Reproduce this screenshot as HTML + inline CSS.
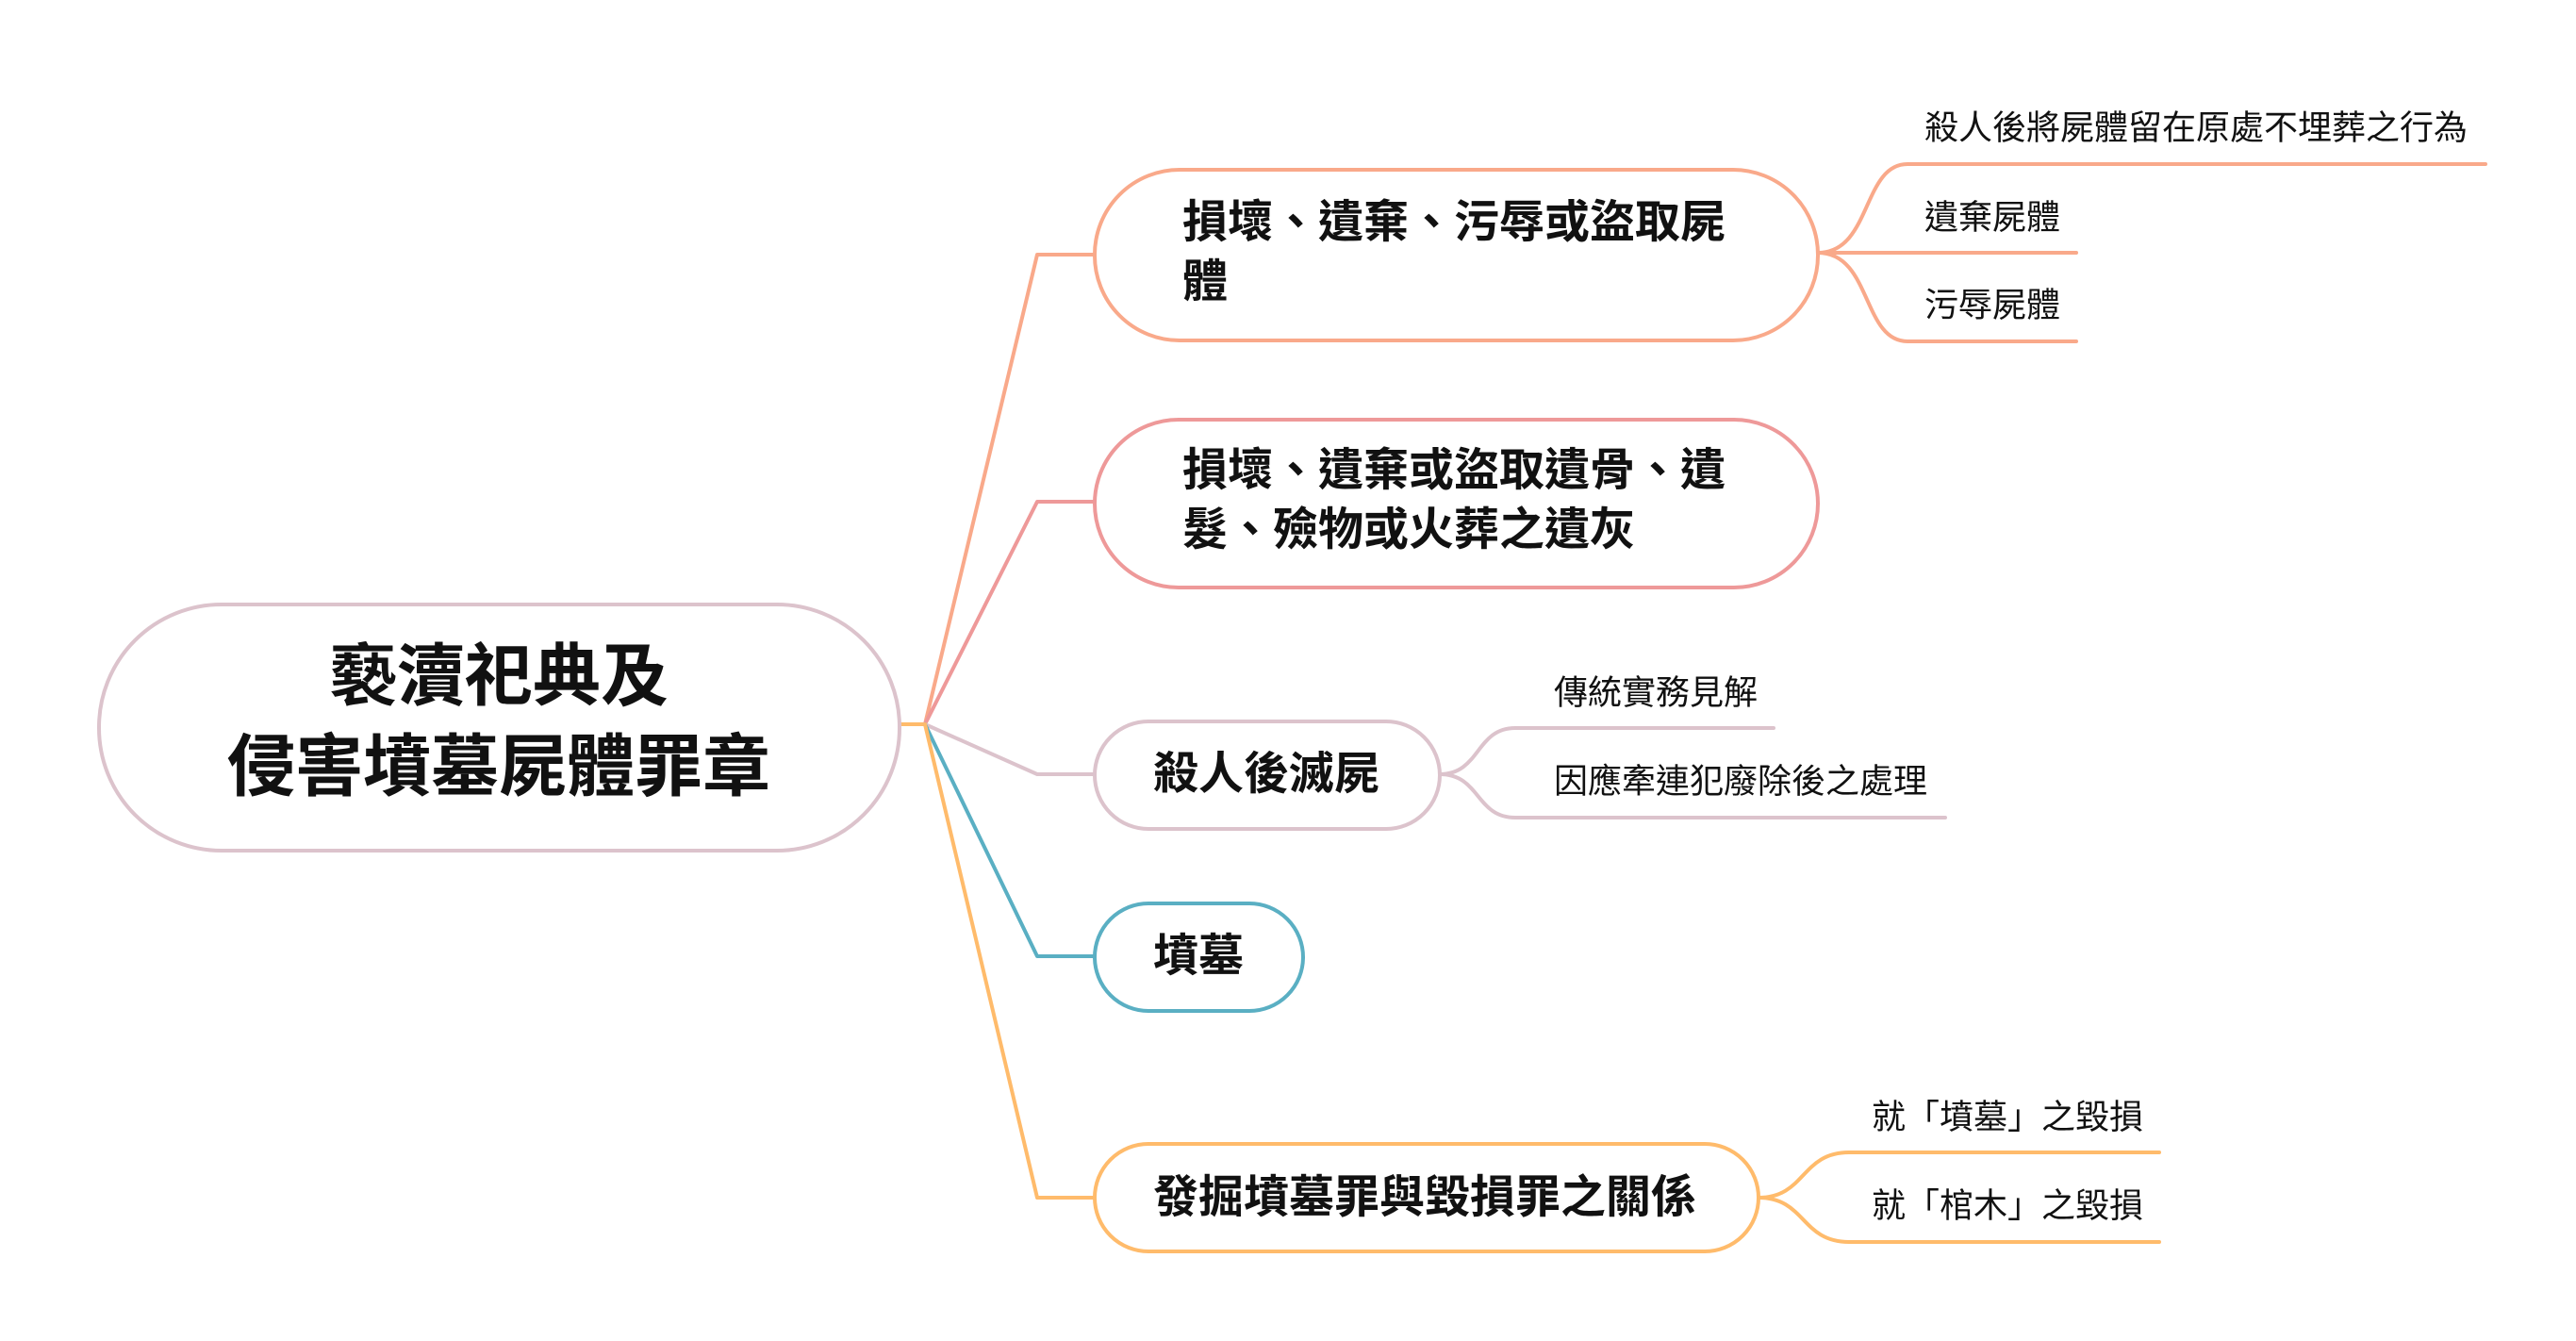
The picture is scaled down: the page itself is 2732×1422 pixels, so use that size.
<!DOCTYPE html>
<html><head><meta charset="utf-8"><style>
html,body{margin:0;padding:0;background:#fff;}
svg{display:block;}
text{font-family:"Liberation Sans","Noto Sans CJK TC",sans-serif;fill:#111;dominant-baseline:central;}
.b{font-weight:bold;}
</style></head><body>
<svg width="2732" height="1422" viewBox="0 0 2732 1422" xmlns="http://www.w3.org/2000/svg">
<g fill="none" stroke-width="4" stroke-linejoin="round" stroke-linecap="round">
<path d="M954 768 H981" stroke="#ffbb6b"/>
<path d="M981 768 L1100 270 H1161" stroke="#f9a98a"/>
<path d="M981 768 L1100 532 H1161" stroke="#ee9999"/>
<path d="M981 768 L1100 821 H1161" stroke="#dcc3cc"/>
<path d="M981 768 L1100 1014 H1161" stroke="#5aafc3"/>
<path d="M981 768 L1100 1270 H1161" stroke="#ffbb6b"/>
<path d="M1928 268 C1985 268,1975 174,2023 174 H2636" stroke="#f9a98a"/>
<path d="M1928 268 H2202" stroke="#f9a98a"/>
<path d="M1928 268 C1985 268,1975 362,2023 362 H2202" stroke="#f9a98a"/>
<path d="M1527 821 C1570 821,1565 772,1607 772 H1881" stroke="#dcc3cc"/>
<path d="M1527 821 C1570 821,1565 867,1607 867 H2063" stroke="#dcc3cc"/>
<path d="M1865 1270 C1915 1270,1910 1222,1961 1222 H2290" stroke="#ffbb6b"/>
<path d="M1865 1270 C1915 1270,1910 1317,1961 1317 H2290" stroke="#ffbb6b"/>
<rect x="105" y="641" width="849" height="261" rx="130" fill="#fff" stroke="#dcc3cc"/>
<rect x="1161" y="180" width="767" height="181" rx="90" fill="#fff" stroke="#f9a98a"/>
<rect x="1161" y="445" width="767" height="178" rx="89" fill="#fff" stroke="#ee9999"/>
<rect x="1161" y="765" width="366" height="114" rx="57" fill="#fff" stroke="#dcc3cc"/>
<rect x="1161" y="958" width="221" height="114" rx="57" fill="#fff" stroke="#5aafc3"/>
<rect x="1161" y="1213" width="704" height="114" rx="57" fill="#fff" stroke="#ffbb6b"/>
</g>
<text class="b" x="529" y="718" font-size="72" text-anchor="middle">褻瀆祀典及</text>
<text class="b" x="529" y="814" font-size="72" text-anchor="middle">侵害墳墓屍體罪章</text>
<text class="b" x="1254" y="236" font-size="48">損壞、遺棄、污辱或盜取屍</text>
<text class="b" x="1254" y="299" font-size="48">體</text>
<text class="b" x="1254" y="499" font-size="48">損壞、遺棄或盜取遺骨、遺</text>
<text class="b" x="1254" y="562" font-size="48">髮、殮物或火葬之遺灰</text>
<text class="b" x="1223" y="821" font-size="48">殺人後滅屍</text>
<text class="b" x="1223" y="1014" font-size="48">墳墓</text>
<text class="b" x="1223" y="1270" font-size="48">發掘墳墓罪與毀損罪之關係</text>
<text x="2041" y="135" font-size="36">殺人後將屍體留在原處不埋葬之行為</text>
<text x="2041" y="230" font-size="36">遺棄屍體</text>
<text x="2041" y="323" font-size="36">污辱屍體</text>
<text x="1648" y="734" font-size="36">傳統實務見解</text>
<text x="1648" y="828" font-size="36">因應牽連犯廢除後之處理</text>
<text x="1985" y="1184" font-size="36">就「墳墓」之毀損</text>
<text x="1985" y="1278" font-size="36">就「棺木」之毀損</text>
</svg>
</body></html>
